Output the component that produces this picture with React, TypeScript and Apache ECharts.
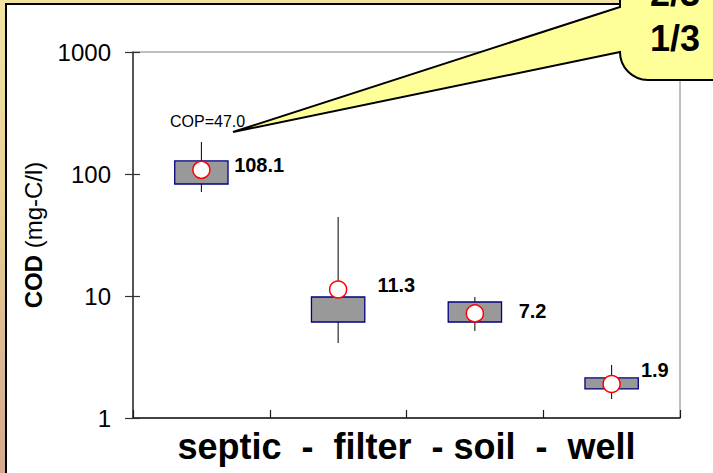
import React, { useEffect, useRef } from "react";
import * as echarts from "echarts";

// ---- data ----
const categories = ["septic", "filter", "soil", "well"];
const whiskerLow = [71.2, 4.12, 5.17, 1.43];
const boxLow = [82.8, 6.12, 6.12, 1.73];
const boxHigh = [128, 9.81, 8.93, 2.13];
const whiskerHigh = [183, 44.4, 9.81, 2.72];
const means = [108.1, 11.3, 7.2, 1.9];
const yTicks = [1, 10, 100, 1000];
const xAxisTitle = "septic\u00A0\u00A0-\u00A0\u00A0filter\u00A0\u00A0-\u00A0soil\u00A0\u00A0-\u00A0\u00A0well";
const yAxisTitleBold = "COD";
const yAxisTitleRest = " (mg-C/l)";
const annotationText = "COP=47.0";
const calloutLines = ["2/3", "1/3"];

// label nudges (layout, not data)
const LABEL_OFFSETS: [number, number][] = [
  [18.5, -5],
  [25, -4.5],
  [29.5, -2.5],
  [15, -14],
];

const FONT = '"Liberation Sans", Arial, Helvetica, sans-serif';

const CALLOUT_D =
  "M 233 132 L 620 7 L 620 -30 L 760 -30 L 760 80 L 648 80 C 632.5 80 620 67.5 620 52 Z";

let registered = false;
function ensureShape() {
  if (registered) return;
  echarts.graphic.registerShape("callout", echarts.graphic.extendPath(CALLOUT_D, {}) as any);
  registered = true;
}

export default function App() {
  const ref = useRef<HTMLDivElement>(null);

  useEffect(() => {
    if (!ref.current) return;
    ensureShape();
    const chart = echarts.init(ref.current, undefined, { renderer: "svg" });

    const boxData = categories.map((_, i) => [i, whiskerLow[i], boxLow[i], boxHigh[i], whiskerHigh[i]]);
    const meanData = categories.map((c, i) => ({
      value: [i, means[i]],
      label: { offset: LABEL_OFFSETS[i] },
    }));

    const gridBox = { left: 133, right: 33, top: 52, bottom: 55 };

    const yCommon: any = {
      type: "log",
      logBase: 10,
      min: 1,
      max: 1000,
      splitLine: { show: false },
      minorTick: { show: false },
      minorSplitLine: { show: false },
    };

    const option: any = {
      animation: false,
      backgroundColor: "transparent",
      textStyle: { fontFamily: FONT },
      grid: [
        {
          ...gridBox,
          show: true,
          borderColor: "#808080",
          borderWidth: 1,
          backgroundColor: "transparent",
        },
        { ...gridBox, show: false },
      ],
      xAxis: [
        {
          type: "category",
          gridIndex: 0,
          data: categories,
          boundaryGap: true,
          axisLine: { show: true, lineStyle: { color: "#1a1a1a", width: 1.5 } },
          axisTick: { show: true, inside: true, length: 8, lineStyle: { color: "#1a1a1a", width: 1.2 } },
          axisLabel: { show: false },
          splitLine: { show: false },
          name: xAxisTitle,
          nameLocation: "middle",
          nameGap: 10,
          nameTextStyle: { fontSize: 36, fontWeight: "bold", color: "#000", fontFamily: FONT },
        },
        {
          type: "category",
          gridIndex: 1,
          data: categories,
          show: false,
        },
      ],
      yAxis: [
        {
          ...yCommon,
          gridIndex: 0,
          position: "left",
          axisLine: { show: true, lineStyle: { color: "#333", width: 1.5 } },
          axisTick: { show: true, inside: false, length: 8, lineStyle: { color: "#333", width: 1.2 } },
          axisLabel: {
            show: true,
            margin: 22,
            fontSize: 24,
            color: "#000",
            fontFamily: FONT,
            formatter: (v: number) => {
              const t = yTicks.find((k) => Math.abs(k - v) / k < 1e-6);
              return t !== undefined ? String(t) : "";
            },
          },
          name: `{b|${yAxisTitleBold}}${yAxisTitleRest}`,
          nameLocation: "middle",
          nameGap: 88,
          nameTextStyle: {
            fontSize: 24,
            color: "#000",
            fontFamily: FONT,
            rich: { b: { fontSize: 24, fontWeight: "bold", color: "#000", fontFamily: FONT } },
          },
        },
        {
          ...yCommon,
          gridIndex: 1,
          position: "left",
          axisLine: { show: false },
          axisTick: { show: true, inside: true, length: 7, lineStyle: { color: "#333", width: 1.2 } },
          axisLabel: { show: false },
        },
      ],
      series: [
        {
          type: "custom",
          xAxisIndex: 0,
          yAxisIndex: 0,
          data: boxData,
          encode: { x: 0, y: [1, 2, 3, 4] },
          z: 2,
          renderItem: (params: any, api: any) => {
            const i = api.value(0);
            const lo = api.coord([i, api.value(1)]);
            const q1 = api.coord([i, api.value(2)]);
            const q3 = api.coord([i, api.value(3)]);
            const hi = api.coord([i, api.value(4)]);
            const w = api.size([1, 0])[0] * 0.39;
            return {
              type: "group",
              children: [
                {
                  type: "line",
                  shape: { x1: lo[0], y1: lo[1], x2: hi[0], y2: hi[1] },
                  style: { stroke: "#000", lineWidth: 1 },
                },
                {
                  type: "rect",
                  shape: { x: q3[0] - w / 2, y: q3[1], width: w, height: q1[1] - q3[1] },
                  style: { fill: "#999999", stroke: "#000080", lineWidth: 1.3 },
                },
              ],
            };
          },
        },
        {
          type: "scatter",
          xAxisIndex: 0,
          yAxisIndex: 0,
          data: meanData,
          symbol: "circle",
          symbolSize: 17,
          z: 3,
          itemStyle: { color: "#ffffff", borderColor: "#ff0000", borderWidth: 1.5, opacity: 1 },
          label: {
            show: true,
            position: "right",
            distance: 5,
            fontSize: 20,
            fontWeight: "bold",
            color: "#000",
            fontFamily: FONT,
            formatter: (p: any) => String(p.value[1]),
          },
        },
      ],
      graphic: [
        {
          type: "text",
          x: 170,
          y: 121,
          z: 50,
          style: {
            text: annotationText,
            font: `16px ${FONT}`,
            fill: "#000",
            align: "left",
            verticalAlign: "middle",
          },
        },
        {
          type: "callout",
          x: 0,
          y: 0,
          scaleX: 1,
          scaleY: 1,
          z: 100,
          style: { fill: "#ffff99", stroke: "#000", lineWidth: 2 },
        },
        {
          type: "text",
          x: 675,
          y: -7,
          z: 101,
          style: {
            text: calloutLines[0],
            font: `bold 36px ${FONT}`,
            fill: "#000",
            align: "center",
            verticalAlign: "middle",
          },
        },
        {
          type: "text",
          x: 675,
          y: 38,
          z: 101,
          style: {
            text: calloutLines[1],
            font: `bold 36px ${FONT}`,
            fill: "#000",
            align: "center",
            verticalAlign: "middle",
          },
        },
      ],
    };

    chart.setOption(option);
    return () => chart.dispose();
  }, []);

  return (
    <div
      style={{
        position: "fixed",
        left: 0,
        top: 0,
        width: 713,
        height: 473,
        overflow: "hidden",
        background: "linear-gradient(180deg, #f1e3a3 0%, #e6cf92 45%, #dab893 75%, #d5a98e 100%)",
      }}
    >
      <div
        style={{
          position: "absolute",
          left: 5,
          top: 3,
          width: 760,
          height: 520,
          background: "#ffffff",
          border: "2px solid #000",
        }}
      />
      <div ref={ref} style={{ position: "absolute", left: 0, top: 0, width: 713, height: 473 }} />
    </div>
  );
}
